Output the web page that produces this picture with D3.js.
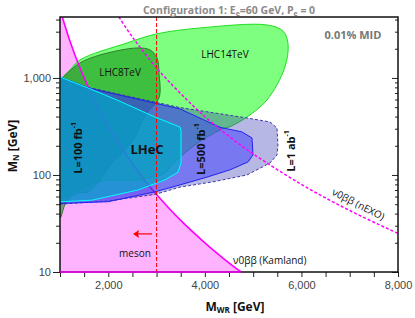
<!DOCTYPE html>
<html>
<head>
<meta charset="utf-8">
<script src="https://cdn.jsdelivr.net/npm/d3@7"></script>
<style>
body { margin: 0; background: #fff; }
svg { font-family: "Open Sans", sans-serif; display: block; }
</style>
</head>
<body>
<svg id="chart" width="415" height="318"></svg>
<script>
const MARGIN = { top: 17, right: 17, bottom: 46, left: 60 };
const W = 415, H = 318;

// valores (M_WR en GeV, M_N en GeV)
const xDomain = [1000, 8000];
const yDomain = [10, 4250];
const xMajor = [2000, 4000, 6000, 8000];
const xMinor = [1000, 1500, 2500, 3000, 3500, 4500, 5000, 5500, 6500, 7000, 7500];
const yMajor = [10, 100, 1000];

const kamland = [[1050, 4200], [1200, 2450], [1400, 1320], [1600, 780], [1800, 485], [2000, 320],
  [2250, 200], [2500, 130], [2750, 89], [3000, 63], [3500, 34], [4000, 20], [4400, 13.6], [4750, 10]];
const nexo = [[2220, 4250], [2500, 2640], [3000, 1270], [3500, 690], [4000, 400], [4500, 250],
  [5000, 165], [6000, 80], [7000, 43], [8000, 25]];
const mesonLimit = 3000;

const lhc14 = [[1041, 1000], [1200, 1200], [1414, 1535], [2387, 2296], [3009, 2850], [3899, 3275], [5287, 3518],
  [5618, 3050], [5721, 2296], [5659, 1298], [5287, 593], [4872, 396], [4520, 315], [4375, 300],
  [3899, 222], [3485, 153], [3300, 125], [3174, 105], [2657, 90], [1828, 86], [1414, 72], [1000, 60], [1000, 900]];
const lhc8 = [[1000, 960], [1041, 1000], [1414, 1428], [1828, 1726], [2595, 2037], [2864, 1944],
  [3009, 1608], [3050, 1127], [3050, 622], [2802, 436], [2512, 229], [2387, 194], [2284, 169],
  [2077, 133], [1932, 105], [1787, 83], [1580, 67], [1373, 65], [1145, 55], [1000, 36]];
const lhec100 = [[1000, 1024], [1580, 789], [2180, 593], [2967, 396], [3485, 312], [3506, 290],
  [3506, 133], [3444, 107], [3174, 89], [2615, 70], [1663, 55], [1041, 53], [1000, 53]];
const lhec500 = [[1000, 1024], [1580, 789], [3485, 480], [4313, 310], [4768, 278], [4976, 241],
  [4997, 161], [4893, 136], [4520, 113], [4044, 95], [3485, 79], [2967, 67], [1994, 53], [1041, 51], [1000, 51]];
const lhec1000 = [[1000, 1024], [1580, 800], [3485, 495], [4872, 387], [5349, 352], [5494, 305],
  [5514, 204], [5494, 161], [5349, 133], [4872, 100], [4168, 85], [3485, 75], [2967, 63], [2000, 54], [1000, 50]];

const width = W - MARGIN.left - MARGIN.right;
const height = H - MARGIN.top - MARGIN.bottom;

const svg = d3.select("#chart");
const g = svg.append("g").attr("transform", "translate(" + MARGIN.left + "," + MARGIN.top + ")");

const x = d3.scaleLinear().domain(xDomain).range([0, width]);
const y = d3.scaleLog().domain(yDomain).range([height, 0]);

g.append("clipPath").attr("id", "clip")
  .append("rect").attr("width", width).attr("height", height);
const plot = g.append("g").attr("clip-path", "url(#clip)");

const smooth = d3.line().x(d => x(d[0])).y(d => y(d[1])).curve(d3.curveCatmullRom.alpha(0.5));
const blob = d3.line().x(d => x(d[0])).y(d => y(d[1])).curve(d3.curveCatmullRomClosed.alpha(0.5));
const poly = d3.line().x(d => x(d[0])).y(d => y(d[1])).curve(d3.curveLinearClosed);

// región excluida por Kamland
const pink = [[xDomain[0], yDomain[0]], [xDomain[0], yDomain[1]]].concat(kamland);
plot.append("path").attr("d", smooth(pink) + "Z").attr("fill", "#ffb3ff");

plot.append("path").attr("d", blob(lhc14))
  .attr("fill", "#00ff00").attr("fill-opacity", 0.5)
  .attr("stroke", "#22dd22").attr("stroke-width", 1);
plot.append("path").attr("d", blob(lhc8))
  .attr("fill", "#008000").attr("fill-opacity", 0.5)
  .attr("stroke", "#2e7d2e").attr("stroke-width", 1);

plot.append("path").attr("d", smooth(kamland))
  .attr("fill", "none").attr("stroke", "#ff00ff").attr("stroke-width", 1.6);

plot.append("path").attr("d", poly(lhec1000))
  .attr("fill", "#3030b0").attr("fill-opacity", 0.35)
  .attr("stroke", "#3a3aa8").attr("stroke-width", 1).attr("stroke-dasharray", "3,2");
plot.append("path").attr("d", poly(lhec500))
  .attr("fill", "#3a3aff").attr("fill-opacity", 0.5)
  .attr("stroke", "#2222ee").attr("stroke-width", 1);
plot.append("path").attr("d", poly(lhec100))
  .attr("fill", "#00a8c8").attr("fill-opacity", 0.7)
  .attr("stroke", "#00ffff").attr("stroke-width", 1);

plot.append("path").attr("d", smooth(nexo))
  .attr("fill", "none").attr("stroke", "#ff00ff").attr("stroke-width", 1.5)
  .attr("stroke-dasharray", "3,2");

plot.append("line")
  .attr("x1", x(mesonLimit)).attr("x2", x(mesonLimit))
  .attr("y1", 0).attr("y2", height)
  .attr("stroke", "red").attr("stroke-width", 1).attr("stroke-dasharray", "4,2");

// flecha meson
const ay = y(24.7);
plot.append("line").attr("x1", x(2905)).attr("x2", x(2540)).attr("y1", ay).attr("y2", ay)
  .attr("stroke", "red").attr("stroke-width", 1.2);
plot.append("path")
  .attr("d", "M" + x(2512) + "," + ay + "l6,-4l-1,4l1,4z")
  .attr("fill", "red");

// ejes
const tickStyle = sel => {
  sel.select(".domain").remove();
  sel.selectAll("line").attr("stroke", "#222");
  sel.selectAll("text").attr("fill", "#444").style("font-size", "11px");
};
g.append("g").attr("transform", "translate(0," + height + ")")
  .call(d3.axisBottom(x).tickValues(xMajor).tickSize(5).tickPadding(4).tickFormat(d3.format(",")))
  .call(tickStyle);
g.append("g").attr("transform", "translate(0," + height + ")")
  .call(d3.axisBottom(x).tickValues(xMinor).tickSize(5).tickFormat(""))
  .call(tickStyle);

const yMinor = y.ticks().filter(d => !yMajor.includes(d));
g.append("g")
  .call(d3.axisLeft(y).tickValues(yMajor).tickSize(7).tickPadding(2).tickFormat(d3.format(",")))
  .call(tickStyle);
g.append("g")
  .call(d3.axisLeft(y).tickValues(yMinor).tickSize(4).tickFormat(""))
  .call(tickStyle);
g.append("g").attr("transform", "translate(" + width + ",0)")
  .call(d3.axisLeft(y).tickValues(yMajor).tickSize(6).tickFormat(""))
  .call(tickStyle);
g.append("g").attr("transform", "translate(" + width + ",0)")
  .call(d3.axisLeft(y).tickValues(yMinor).tickSize(3).tickFormat(""))
  .call(tickStyle);

g.append("rect").attr("width", width).attr("height", height)
  .attr("fill", "none").attr("stroke", "#111").attr("stroke-width", 1.5);

// borde inferior de la región Kamland
g.append("line").attr("x1", x(xDomain[0])).attr("x2", x(4750))
  .attr("y1", height).attr("y2", height)
  .attr("stroke", "#ff00ff").attr("stroke-width", 1.6);

// textos
function label(txt, px, py, opts) {
  const t = g.append("text")
    .attr("x", px).attr("y", py)
    .attr("text-anchor", opts.anchor || "middle")
    .attr("dominant-baseline", "middle")
    .style("font-size", (opts.size || 10) + "px")
    .style("font-weight", opts.bold ? "bold" : "normal")
    .attr("fill", opts.color || "#111");
  if (opts.rotate) t.attr("transform", "rotate(" + opts.rotate + "," + px + "," + py + ")");
  return t;
}
function lumi(pre, post, px, py) {
  const t = label("", px, py, { bold: true, size: 11, rotate: -90 });
  t.append("tspan").text(pre);
  t.append("tspan").attr("baseline-shift", "super").style("font-size", "7px").text(post);
  return t;
}

lumi("L=100 fb", "-1", x(1393), y(190));
lumi("L=500 fb", "-1", x(3940), y(185));
lumi("L=1 ab", "-1", x(5804), y(177));
label("", x(2802), y(177), { bold: true, size: 13 }).text("LHeC");
label("", x(2243), y(1127), { size: 10 }).text("LHC8TeV");
label("", x(4417), y(1726), { size: 10 }).text("LHC14TeV");
label("", x(7067), y(2710), { bold: true, size: 11, color: "#777" }).text("0.01% MID");
label("", x(2553), y(15.3), { size: 10 }).text("meson");
label("", x(4583), y(12.9), { size: 10, anchor: "start" }).text("ν0ββ (Kamland)");
label("", x(7171), y(49), { size: 10, rotate: 27 }).text("ν0ββ (nEXO)");

const title = svg.append("text").attr("x", 229).attr("y", 14)
  .attr("text-anchor", "middle").style("font-size", "10.5px").style("font-weight", "bold")
  .attr("fill", "#8a8a8a");
title.append("tspan").text("Configuration 1: E");
title.append("tspan").attr("dy", 2).style("font-size", "7px").text("e");
title.append("tspan").attr("dy", -2).text("=60 GeV, P");
title.append("tspan").attr("dy", 2).style("font-size", "7px").text("e");
title.append("tspan").attr("dy", -2).text(" = 0");

const xl = svg.append("text").attr("x", 235).attr("y", 311)
  .attr("text-anchor", "middle").style("font-size", "12px").style("font-weight", "bold").attr("fill", "#111");
xl.append("tspan").text("M");
xl.append("tspan").attr("dy", 2).style("font-size", "8px").text("WR");
xl.append("tspan").attr("dy", -2).text(" [GeV]");

const yl = svg.append("text").attr("transform", "translate(17,146) rotate(-90)")
  .attr("text-anchor", "middle").style("font-size", "12px").style("font-weight", "bold").attr("fill", "#111");
yl.append("tspan").text("M");
yl.append("tspan").attr("dy", 2).style("font-size", "8px").text("N");
yl.append("tspan").attr("dy", -2).text(" [GeV]");
</script>
</body>
</html>
